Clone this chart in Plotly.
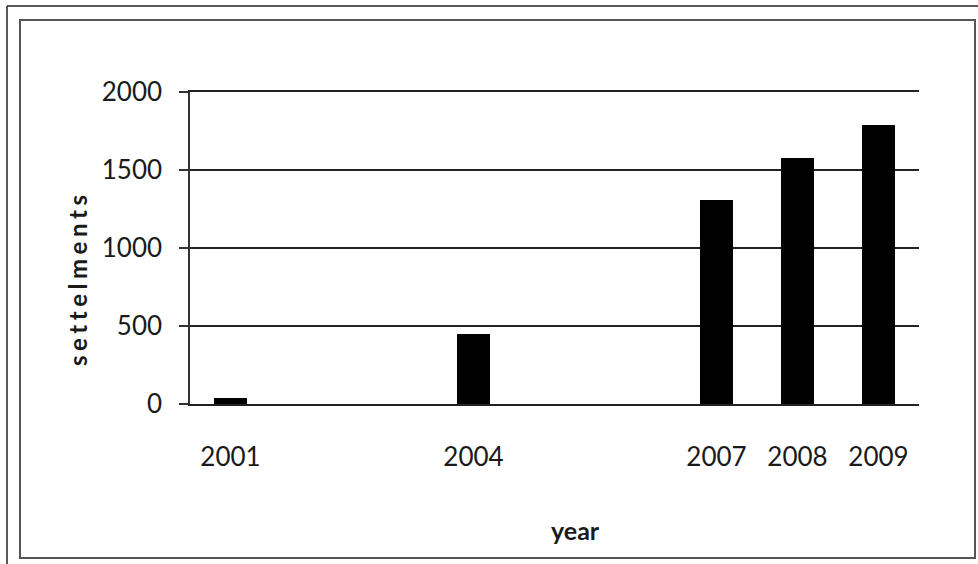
import plotly.graph_objects as go

# Settlement counts per year
years = [2001, 2004, 2007, 2008, 2009]
settlements = [40, 450, 1310, 1580, 1790]
y_ticks = [0, 500, 1000, 1500, 2000]
x_title = "year"
y_title = "settelments"

W, H = 978, 564
L, R, T, B = 190, 59, 92, 160
PW, PH = W - L - R, H - T - B


def px_x(p):
    return (p - L) / PW


def px_y(p):
    return (H - B - p) / PH


fig = go.Figure(
    go.Bar(
        x=years,
        y=settlements,
        width=0.4,
        marker=dict(color="black", line=dict(width=0)),
        hoverinfo="x+y",
    )
)

label_font = dict(family="Lato, Carlito, 'Open Sans', sans-serif", size=26, color="#1a1a1a")

fig.update_xaxes(
    range=[2000.5, 2009.5],
    tickmode="array",
    tickvals=years,
    ticktext=[str(v) for v in years],
    ticks="",
    showgrid=False,
    zeroline=False,
    showline=True,
    mirror=True,
    linecolor="#222",
    linewidth=1.6,
    tickfont=label_font,
    ticklabelstandoff=29,
)

fig.update_yaxes(
    range=[0, 2000],
    tickmode="array",
    tickvals=y_ticks,
    ticks="outside",
    ticklen=9,
    tickwidth=1.5,
    tickcolor="#333",
    showline=True,
    linecolor="#333",
    linewidth=1.5,
    showgrid=True,
    gridcolor="#222",
    gridwidth=1.6,
    zeroline=False,
    tickfont=label_font,
    ticklabelstandoff=12,
)

# Letter-spaced axis title
fig.add_annotation(
    text="\u2009\u200a".join(y_title),
    textangle=-90,
    xref="paper", yref="paper",
    x=px_x(77), y=px_y(281),
    xanchor="center", yanchor="middle",
    showarrow=False,
    font=dict(family="Lato, 'Open Sans', sans-serif", size=24, color="#1a1a1a", weight="bold"),
)

fig.add_annotation(
    text=x_title,
    xref="paper", yref="paper",
    x=px_x(575), y=px_y(530),
    xanchor="center", yanchor="middle",
    showarrow=False,
    font=dict(family="Lato, 'Open Sans', sans-serif", size=25, color="#1a1a1a", weight="bold"),
)

# Frame lines around the figure
fig.add_shape(type="rect", xref="paper", yref="paper",
              x0=px_x(20), x1=px_x(975), y0=px_y(558), y1=px_y(20),
              line=dict(color="#555", width=2), layer="below")
fig.add_shape(type="line", xref="paper", yref="paper",
              x0=px_x(7), x1=px_x(978), y0=px_y(6), y1=px_y(6),
              line=dict(color="#222", width=1.5))
fig.add_shape(type="line", xref="paper", yref="paper",
              x0=px_x(7), x1=px_x(7), y0=px_y(564), y1=px_y(6),
              line=dict(color="#222", width=1.5))

fig.update_layout(
    width=W, height=H,
    margin=dict(l=L, r=R, t=T, b=B),
    paper_bgcolor="white",
    plot_bgcolor="white",
    showlegend=False,
    bargap=0,
)

fig.write_html("out.html")
